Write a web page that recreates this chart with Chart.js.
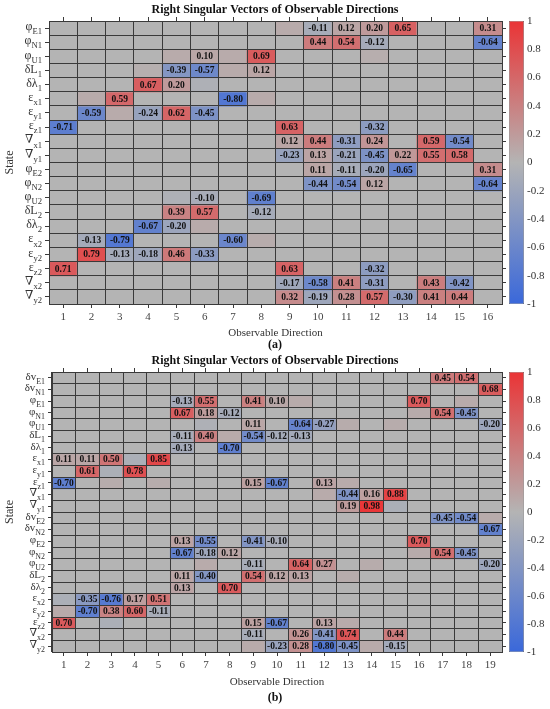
<!DOCTYPE html>
<html>
<head>
<meta charset="utf-8">
<script src="https://cdn.jsdelivr.net/npm/chart.js@4.4.1/dist/chart.umd.min.js"></script>
<style>
    body { margin: 0; background: #fff; width: 550px; height: 709px; position: relative; overflow: hidden; }
    canvas { position: absolute; }
</style>
</head>
<body>
<canvas id="heatA" width="550" height="356" style="left:0;top:0;width:550px;height:356px"></canvas>
<canvas id="barA" width="45" height="356" style="left:505px;top:0;width:45px;height:356px"></canvas>
<canvas id="heatB" width="550" height="359" style="left:0;top:350px;width:550px;height:359px"></canvas>
<canvas id="barB" width="45" height="359" style="left:505px;top:350px;width:45px;height:359px"></canvas>
<script>
// ---- data ----
const colsA = ['1','2','3','4','5','6','7','8','9','10','11','12','13','14','15','16'];
const statesA = [
    ['φ','E1'], ['φ','N1'], ['φ','U1'], ['δL','1'], ['δλ','1'], ['ε','x1'], ['ε','y1'], ['ε','z1'], ['∇','x1'], ['∇','y1'],
    ['φ','E2'], ['φ','N2'], ['φ','U2'], ['δL','2'], ['δλ','2'], ['ε','x2'], ['ε','y2'], ['ε','z2'], ['∇','x2'], ['∇','y2']
];
const valuesA = [
    [0,0,0,0,0,0,0,0,0.07,-0.11,0.12,0.20,0.65,0,0,0.31],
    [0,0,0,0,0,0,0,0,0,0.44,0.54,-0.12,0,0,0,-0.64],
    [0,0,0,0,0.07,0.10,0.07,0.69,0,0,0,0.05,0,0,0,0],
    [0,0,0,0.04,-0.39,-0.57,0.07,0.12,0,0,0,0,0,0,0,0],
    [0,0,0,0.67,0.20,-0.05,0,0,0,0,0,0,0,0,0,0],
    [0,0.07,0.59,0,0,0,-0.80,0.07,0,0,0,0,0,0,0,0],
    [0,-0.59,0.07,-0.24,0.62,-0.45,0,0,0,0,0,0,0,0,0,0],
    [-0.71,0,0,0,0,0,0,0,0.63,0,0,-0.32,0,0,0,0],
    [0,0,0,0,0,0,0,0,0.12,0.44,-0.31,0.24,0,0.59,-0.54,0],
    [0,0,0,0,0,0,0,0,-0.23,0.13,-0.21,-0.45,0.22,0.55,0.58,0],
    [0,0,0,0,0,0,0,0,0,0.11,-0.11,-0.20,-0.65,0,0,0.31],
    [0,0,0,0,0,0,0,0,0,-0.44,-0.54,0.12,0,0,0,-0.64],
    [0,0,0,0,-0.05,-0.10,0,-0.69,0,0,0,0,0,0,0,0],
    [0,0,0,0,0.39,0.57,0,-0.12,0,0,0,0,0,0,0,0],
    [0,0,0,-0.67,-0.20,0.07,0,0,0,0,0,0,0,0,0,0],
    [0,-0.13,-0.79,0,0,0,-0.60,0.06,0,0,0,0,0,0,0,0],
    [0,0.79,-0.13,-0.18,0.46,-0.33,0,0,0,0,0,0,0,0,0,0],
    [0.71,0,0,0,0,0,0,0,0.63,0,0,-0.32,0,0,0,0],
    [0,0,0,0,0,0,0,0,-0.17,-0.58,0.41,-0.31,0,0.43,-0.42,0],
    [0,0,0,0,0,0,0,0,0.32,-0.19,0.28,0.57,-0.30,0.41,0.44,0]
];

const colsB = ['1','2','3','4','5','6','7','8','9','10','11','12','13','14','15','16','17','18','19'];
const statesB = [
    ['δv','E1'], ['δv','N1'], ['φ','E1'], ['φ','N1'], ['φ','U1'], ['δL','1'], ['δλ','1'], ['ε','x1'], ['ε','y1'], ['ε','z1'], ['∇','x1'], ['∇','y1'],
    ['δv','E2'], ['δv','N2'], ['φ','E2'], ['φ','N2'], ['φ','U2'], ['δL','2'], ['δλ','2'], ['ε','x2'], ['ε','y2'], ['ε','z2'], ['∇','x2'], ['∇','y2']
];
const valuesB = [
    [0,0,0,0,0,0,0,0,0,0,0,0,0,0,0,0,0.45,0.54,0],
    [0,0,0,0,0,0,0,0,0,0,0,0,0,0,0,0,0,0,0.68],
    [0,0,0,0,0,-0.13,0.55,0,0.41,0.10,0.07,0,0,0,0,0.70,0,0.07,0],
    [0,0,0,0,0,0.67,0.18,-0.12,0,0,0,0,0,0,0,0.07,0.54,-0.45,0],
    [0,0,0,0,0,0,-0.05,0,0.11,0,-0.64,-0.27,0.06,0,0.06,0,0,0,-0.20],
    [0,0,0,0,0,-0.11,0.40,0.07,-0.54,-0.12,-0.13,0,0,0,0,0,0,0,0],
    [0,0,0,0,0,-0.13,0,-0.70,0,0,0,0,0,0,0,0,0,0,0],
    [0.11,0.11,0.50,-0.07,0.85,0,0,0,0,0,0,0,0,0,0,0,0,0,0],
    [0,0.61,-0.07,0.78,0,0,0,0,0,0,0,0,0,0,0,0,0,0,0],
    [-0.70,0,0.06,0,0.06,0,0,0,0.15,-0.67,0,0.13,0.07,0,0,0,0,0,0],
    [0,0,0,0,0,0,0,0,0,0,0,0.07,-0.44,0.16,0.88,0,0,0,0],
    [0,0,0,0,0,0,0,0,0,0,0,0,0.19,0.98,-0.07,0,0,0,0],
    [0,0,0,0,0,0,0,0,0,0,0,0,0,0,0,0,-0.45,-0.54,0.07],
    [0,0,0,0,0,0,0,0,0,0,0,0,0,0,0,0,0,0,-0.67],
    [0,0,0,0,0,0.13,-0.55,0,-0.41,-0.10,0,0,0,0,0,0.70,0,0,0],
    [0,0,0,0,0,-0.67,-0.18,0.12,0,0,0,0,0,0,0,0.07,0.54,-0.45,0],
    [0,0,0,0,0,0,0.07,0,-0.11,0,0.64,0.27,0,0.06,0,0,0,0,-0.20],
    [0,0,0,0,0,0.11,-0.40,0,0.54,0.12,0.13,0,0.06,0,0,0,0,0,0],
    [0,0,0,0,0,0.13,0,0.70,0,0,0,0,0,0,0,0,0,0,0],
    [-0.07,-0.35,-0.76,0.17,0.51,0,0,0,0,0,0,0,0,0,0,0,0,0,0],
    [0.07,-0.70,0.38,0.60,-0.11,0,0,0,0,0,0,0,0,0,0,0,0,0,0],
    [0.70,0,-0.07,0,0,0,0,0,0.15,-0.67,0,0.13,0.07,0,0,0,0,0,0],
    [0,0,0,0,0,0,0,0,-0.11,0,0.26,-0.41,0.74,0,0.44,0,0,0,0],
    [0,0,0,0,0,0,0,0,0.07,-0.23,0.28,-0.80,-0.45,0.07,-0.15,0,0,0,0]
];

const colorTicks = [-1, -0.8, -0.6, -0.4, -0.2, 0, 0.2, 0.4, 0.6, 0.8, 1];

// ---- look ----
const SERIF = "'Liberation Serif', 'DejaVu Serif', serif";
const NEG = [58, 104, 218];
const MID = [180, 180, 180];
const POS = [234, 52, 54];
const LINE = '#3a3a3a';

function rgb(c) { return 'rgb(' + c.map(Math.round).join(',') + ')'; }

function cellColor(v) {
    const end = v >= 0 ? POS : NEG;
    const t = Math.min(Math.abs(v), 1);
    return rgb(MID.map((m, i) => m + (end[i] - m) * t));
}

// value text in the middle of each cell
function cellLabels(values) {
    return {
        id: 'cellLabels',
        afterDraw(chart) {
            const ctx = chart.ctx;
            ctx.save();
            ctx.font = 'bold 9.5px ' + SERIF;
            ctx.textAlign = 'center';
            ctx.textBaseline = 'middle';
            ctx.fillStyle = '#111';
            chart.data.datasets.forEach((ds, r) => {
                chart.getDatasetMeta(r).data.forEach((bar, c) => {
                    const v = values[r][c];
                    if (Math.abs(v) < 0.095) return;
                    ctx.fillText(v.toFixed(2), bar.x, (bar.y + bar.base) / 2 + 0.5);
                });
            });
            ctx.restore();
        }
    };
}

// state names with subscripts, next to the left ticks
function rowLabels(states, size) {
    return {
        id: 'rowLabels',
        afterDraw(chart) {
            const { ctx, chartArea, scales } = chart;
            const right = chartArea.left - 7;
            ctx.save();
            ctx.fillStyle = '#333';
            ctx.textBaseline = 'middle';
            states.forEach(([main, sub], i) => {
                const y = scales.y.getPixelForValue(i + 0.5);
                ctx.font = (size * 0.72) + 'px ' + SERIF;
                const sw = ctx.measureText(sub).width;
                ctx.textAlign = 'left';
                ctx.fillText(sub, right - sw, y + size * 0.33);
                ctx.font = size + 'px ' + SERIF;
                ctx.textAlign = 'right';
                ctx.fillText(main, right - sw, y - 1);
            });
            ctx.restore();
        }
    };
}

function buildHeatmap(id, states, cols, values, tag, box) {
    const datasets = states.map((s, r) => ({
        label: s.join(''),
        data: cols.map(() => [r, r + 1]),
        backgroundColor: cols.map((_, c) => cellColor(values[r][c])),
        borderWidth: 0,
        inflateAmount: 0.5,
        barPercentage: 1,
        categoryPercentage: 1,
        grouped: false
    }));
    const rowTicks = scale => { scale.ticks = states.map((_, i) => ({ value: i + 0.5 })); };
    const rowEdges = scale => { scale.ticks = [...states.map((_, i) => ({ value: i })), { value: states.length }]; };
    const edgeGrid = { offset: false, drawOnChartArea: false, tickLength: 4, color: LINE };
    const edgeBorder = { color: LINE, z: 2 };
    const cellGrid = { offset: true, drawOnChartArea: true, drawTicks: false, color: LINE, lineWidth: 1, z: 1 };

    return new Chart(document.getElementById(id), {
        type: 'bar',
        data: { labels: cols, datasets },
        options: {
            responsive: false,
            animation: false,
            layout: { padding: 0 },
            plugins: {
                legend: { display: false },
                tooltip: { enabled: false },
                title: {
                    display: true,
                    text: 'Right Singular Vectors of Observable Directions',
                    font: { family: SERIF, size: 12, weight: 'bold' },
                    color: '#111',
                    padding: { top: box.titleTop, bottom: 0 }
                },
                subtitle: {
                    display: true,
                    position: 'bottom',
                    text: tag,
                    font: { family: SERIF, size: 12, weight: 'bold', lineHeight: 1 },
                    color: '#111',
                    padding: { top: 0, bottom: box.tagBottom }
                }
            },
            scales: {
                x: {
                    type: 'category',
                    offset: true,
                    grid: edgeGrid,
                    border: edgeBorder,
                    ticks: { font: { family: SERIF, size: 11 }, color: '#444', padding: 3, maxRotation: 0, autoSkip: false },
                    title: {
                        display: true,
                        text: 'Observable Direction',
                        font: { family: SERIF, size: 11, lineHeight: 1 },
                        color: '#333',
                        padding: { top: 0, bottom: box.xTitleBottom }
                    },
                    afterFit: s => { s.height = box.xHeight; }
                },
                x2: {
                    type: 'category',
                    labels: cols,
                    position: 'top',
                    offset: true,
                    grid: edgeGrid,
                    border: edgeBorder,
                    ticks: { display: false },
                    afterFit: s => { s.height = box.topHeight; }
                },
                // cell separators, drawn over the cells
                gx: {
                    type: 'category',
                    labels: cols,
                    position: 'top',
                    offset: true,
                    grid: cellGrid,
                    border: { display: false },
                    ticks: { display: false },
                    afterFit: s => { s.height = 0; }
                },
                gy: {
                    type: 'linear',
                    position: 'left',
                    min: 0,
                    max: states.length,
                    reverse: true,
                    afterBuildTicks: rowEdges,
                    grid: { ...cellGrid, offset: false },
                    border: { display: false },
                    ticks: { display: false, autoSkip: false },
                    afterFit: s => { s.width = 0; }
                },
                y: {
                    type: 'linear',
                    min: 0,
                    max: states.length,
                    reverse: true,
                    afterBuildTicks: rowTicks,
                    ticks: { callback: () => '', autoSkip: false },
                    grid: edgeGrid,
                    border: edgeBorder,
                    title: {
                        display: true,
                        text: 'State',
                        font: { family: SERIF, size: 12 },
                        color: '#333',
                        padding: { top: 3, bottom: 0 }
                    },
                    afterFit: s => { s.width = box.yWidth; }
                },
                y2: {
                    type: 'linear',
                    position: 'right',
                    min: 0,
                    max: states.length,
                    reverse: true,
                    afterBuildTicks: rowTicks,
                    ticks: { callback: () => '', autoSkip: false },
                    grid: edgeGrid,
                    border: edgeBorder,
                    afterFit: s => { s.width = 48; }
                }
            }
        },
        plugins: [rowLabels(states, box.labelSize), cellLabels(values)]
    });
}

function buildColorbar(id, top, bottom) {
    return new Chart(document.getElementById(id), {
        type: 'bar',
        data: {
            labels: [''],
            datasets: [{
                data: [[-1, 1]],
                backgroundColor: c => {
                    const a = c.chart.chartArea;
                    if (!a) return rgb(MID);
                    const g = c.chart.ctx.createLinearGradient(0, a.bottom, 0, a.top);
                    g.addColorStop(0, rgb(NEG));
                    g.addColorStop(0.5, rgb(MID));
                    g.addColorStop(1, rgb(POS));
                    return g;
                },
                borderColor: '#555',
                borderWidth: 0.6,
                borderSkipped: false,
                inflateAmount: 0,
                barPercentage: 1,
                categoryPercentage: 1
            }]
        },
        options: {
            responsive: false,
            animation: false,
            layout: { padding: { left: 4, right: 0, top, bottom } },
            plugins: { legend: { display: false }, tooltip: { enabled: false } },
            scales: {
                x: { display: false },
                y: {
                    position: 'right',
                    min: -1,
                    max: 1,
                    afterBuildTicks: s => { s.ticks = colorTicks.map(v => ({ value: v })); },
                    ticks: {
                        autoSkip: false,
                        padding: 3,
                        font: { family: SERIF, size: 11 },
                        color: '#333',
                        callback: v => String(+v.toFixed(1))
                    },
                    grid: { drawOnChartArea: false, drawTicks: false },
                    border: { display: false },
                    afterFit: s => { s.width = 26; }
                }
            }
        }
    });
}

document.addEventListener('DOMContentLoaded', function () {
    buildHeatmap('heatA', statesA, colsA, valuesA, '(a)', {
        titleTop: 2.8, topHeight: 3.8, yWidth: 49,
        xHeight: 34.5, xTitleBottom: 0, tagBottom: 5.5, labelSize: 12
    });
    buildColorbar('barA', 21, 52);

    buildHeatmap('heatB', statesB, colsB, valuesB, '(b)', {
        titleTop: 3.8, topHeight: 3.8, yWidth: 52,
        xHeight: 40, xTitleBottom: 4.5, tagBottom: 5, labelSize: 11
    });
    buildColorbar('barB', 22, 57);
});
</script>
</body>
</html>
